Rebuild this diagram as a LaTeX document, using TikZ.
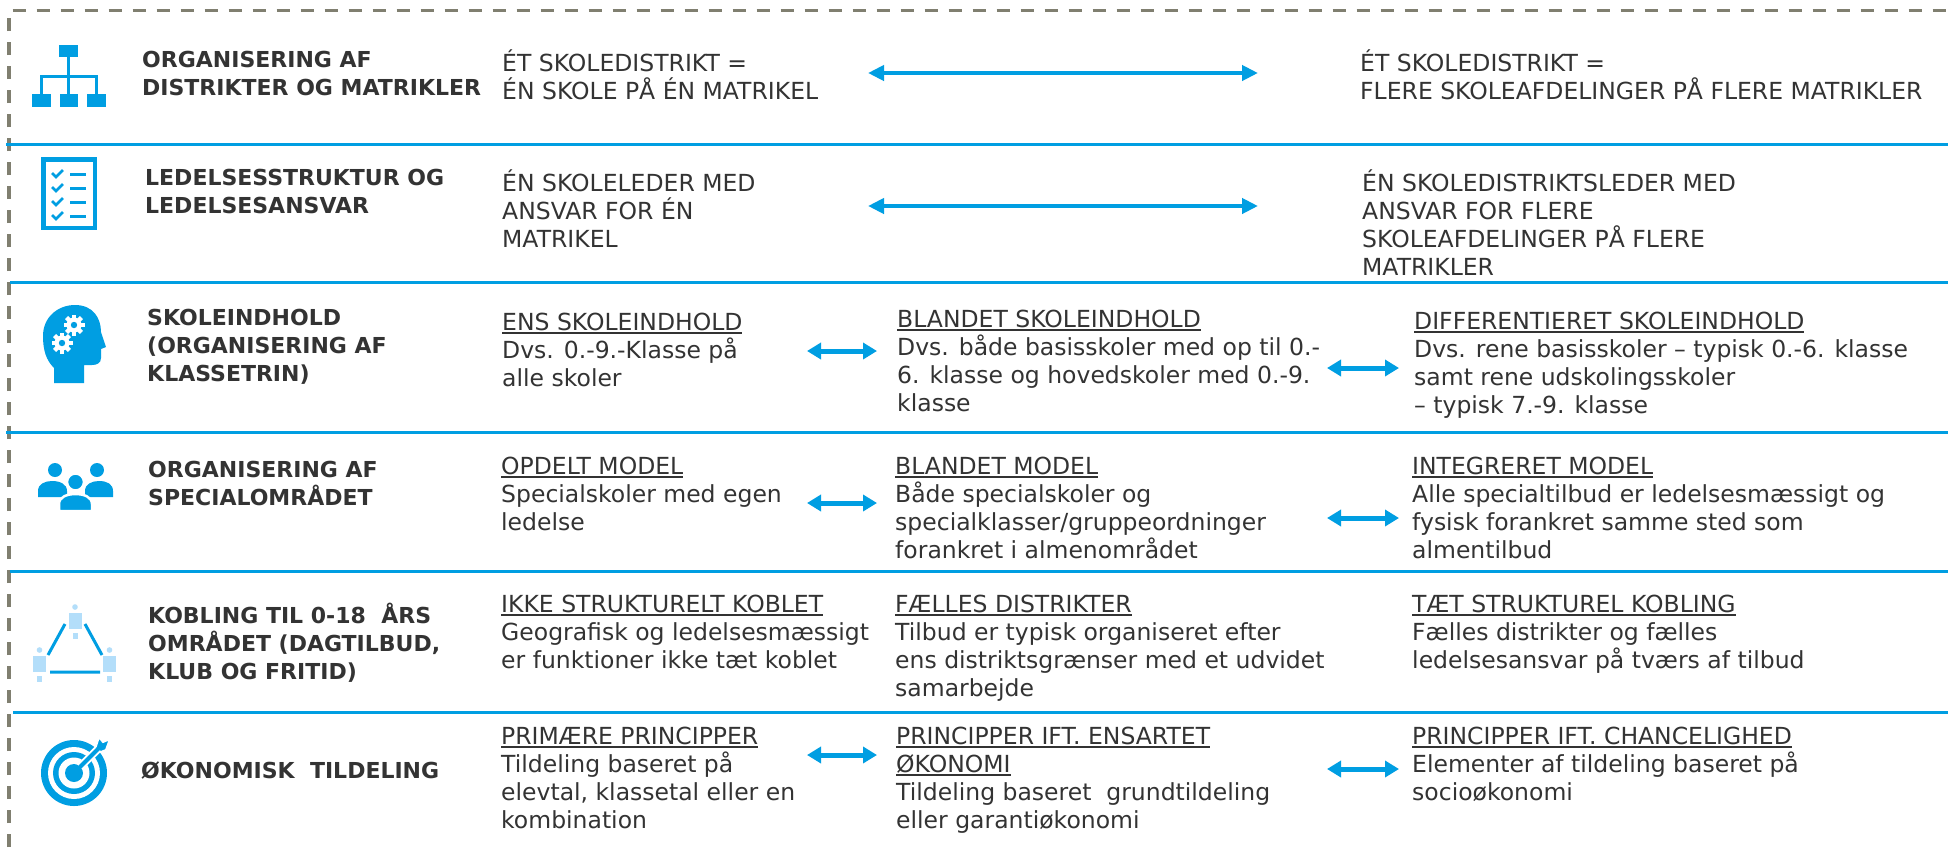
\documentclass[tikz,border=0pt]{standalone}
\usepackage{fontspec}
\setmainfont{DejaVu Sans}
\usetikzlibrary{arrows.meta}
\definecolor{blu}{RGB}{0,158,226}
\definecolor{lblu}{RGB}{179,222,250}
\definecolor{txt}{RGB}{51,51,51}
\definecolor{dsh}{RGB}{128,127,112}
\newlength\ulwd
\newcommand\ulin[1]{\settowidth\ulwd{#1}\rlap{\rule[-3.5pt]{\ulwd}{1.6pt}}#1}
\tikzset{
  rowtitle/.style={anchor=north west, inner sep=0pt, align=left, text=txt,
    font=\fontsize{22}{28}\selectfont\bfseries, execute at begin node=\rule{0pt}{22pt}},
  celltext/.style={anchor=north west, inner sep=0pt, align=left, text=txt,
    font=\fontsize{23.5}{28}\selectfont, execute at begin node=\rule{0pt}{22pt}},
  longarr/.style={<->, draw=blu, line width=4pt, >={Triangle[length=16pt,width=15pt]}},
  shortarr/.style={<->, draw=blu, line width=5pt, >={Triangle[length=14pt,width=16pt]}},
  sep/.style={draw=blu, line width=3pt}
}
\begin{document}
\begin{tikzpicture}[x=1pt,y=-1pt]
\useasboundingbox (0,0) rectangle (1948,847);
\fill[white] (0,0) rectangle (1948,847);
% frame
\draw[dsh, line width=3.5pt, dash pattern=on 13pt off 11pt] (9,847) -- (9,10.5) -- (1948,10.5);
\foreach \y/\x in {144/6,282/10,432/6,571/10,712/13} \draw[sep] (\x,\y) -- (1948,\y);

% icons
\fill[blu] (59,45) rectangle (78,57);
\draw[blu, line width=3pt] (68.5,57) -- (68.5,94) (41,94) -- (41,76) -- (96,76) -- (96,94);
\foreach \x in {32,59.5,87} \fill[blu] (\x,94) rectangle ++(18.5,13);

\draw[blu, line width=4.5pt] (43.25,159.25) rectangle (94.75,227.75);
\foreach \y in {174,188,202,216} {
  \draw[blu, line width=2.8pt] (52,\y-1) -- (56,\y+3) -- (63,\y-4);
  \draw[blu, line width=3pt] (70,\y) -- (86,\y);
}

\fill[blu] (54,383) -- (54,368) .. controls (46,360) and (43,350) .. (43,336)
  .. controls (43,317) and (58,305) .. (75,305) .. controls (93,305) and (101,318) .. (101,332)
  -- (106,347) -- (101,349) -- (101,358) .. controls (101,363) and (97,365) .. (92,365)
  -- (84,365) -- (84,383) -- cycle;
\foreach \gx/\gy in {74/325,62/343} {
  \fill[white] (\gx,\gy) circle (7.5);
  \foreach \a in {0,45,...,315}
    \fill[white, rotate around={\a:(\gx,\gy)}] (\gx-2.2,\gy-10.5) rectangle (\gx+2.2,\gy);
  \fill[blu] (\gx,\gy) circle (3.2);
}

\fill[blu] (55,470) circle (7) (97,470) circle (7);
\fill[blu] (38,497) -- (38,491) .. controls (38,484) and (45,481) .. (52,481)
  .. controls (60,481) and (67,484) .. (67,491) -- (67,497) -- cycle;
\fill[blu] (85,497) -- (85,491) .. controls (85,484) and (92,481) .. (99,481)
  .. controls (107,481) and (113,484) .. (113,491) -- (113,497) -- cycle;
\filldraw[fill=blu, draw=white, line width=2.5pt] (59,511) -- (59,504) .. controls (59,497) and (67,494) .. (75.5,494)
  .. controls (84,494) and (92,497) .. (92,504) -- (92,511) -- cycle;
\filldraw[fill=blu, draw=white, line width=2.5pt] (75.5,482) circle (8.5);

\foreach \px/\py in {75/607,39.5/650,109.5/650} {
  \fill[lblu] (\px,\py) circle (2.8);
  \fill[lblu] (\px-6.5,\py+6) rectangle (\px+6.5,\py+22);
  \fill[lblu] (\px-2.5,\py+26) rectangle (\px+2.5,\py+32);
}
\draw[blu, line width=3pt] (65,624) -- (48,655) (85,624) -- (102,655) (50,672) -- (100,672);

\fill[blu] (74,773) circle (33);
\fill[white] (74,773) circle (26);
\fill[blu] (74,773) circle (21);
\fill[white] (74,773) circle (15.5);
\fill[blu] (74,773) circle (9);
\draw[white, line width=8pt] (80,767) -- (100,747);
\filldraw[fill=blu, draw=white, line width=2pt] (95,749) -- (99,737) -- (103,742) -- (110,739) -- (106,750) -- (101,752) -- cycle;
\draw[blu, line width=4pt] (74,773) -- (101,746);

% row titles
\node[rowtitle] (t1) at (142,51) {ORGANISERING AF\\DISTRIKTER OG MATRIKLER};
\node[rowtitle] (t2) at (145,169) {LEDELSESSTRUKTUR OG\\LEDELSESANSVAR};
\node[rowtitle] (t3) at (147,309) {SKOLEINDHOLD\\(ORGANISERING AF\\KLASSETRIN)};
\node[rowtitle] (t4) at (148,461) {ORGANISERING AF\\SPECIALOMRÅDET};
\node[rowtitle] (t5) at (148,603) {KOBLING TIL 0-18\ \ ÅRS\\OMRÅDET (DAGTILBUD,\\KLUB OG FRITID)};
\node[rowtitle] (t6) at (141,756) {ØKONOMISK\ \ TILDELING};

% rows 1-2
\node[celltext] (a1) at (502,49.6) {ÉT SKOLEDISTRIKT =\\ÉN SKOLE PÅ ÉN MATRIKEL};
\node[celltext] (c1) at (1360,49.6) {ÉT SKOLEDISTRIKT =\\FLERE SKOLEAFDELINGER PÅ FLERE MATRIKLER};
\node[celltext] (a2) at (502,169.6) {ÉN SKOLELEDER MED\\ANSVAR FOR ÉN\\MATRIKEL};
\node[celltext] (c2) at (1362,169.6) {ÉN SKOLEDISTRIKTSLEDER MED\\ANSVAR FOR FLERE\\SKOLEAFDELINGER PÅ FLERE\\MATRIKLER};

% rows 3-6
\node[celltext] (a3) at (502,312.6) {\ulin{ENS SKOLEINDHOLD}\\Dvs. 0.-9.-Klasse på\\alle skoler};
\node[celltext] (b3) at (897,309.6) {\ulin{BLANDET SKOLEINDHOLD}\\Dvs. både basisskoler med op til 0.-\\6. klasse og hovedskoler med 0.-9.\\klasse};
\node[celltext] (c3) at (1414,311.6) {\ulin{DIFFERENTIERET SKOLEINDHOLD}\\Dvs. rene basisskoler – typisk 0.-6. klasse\\samt rene udskolingsskoler\\– typisk 7.-9. klasse};
\node[celltext] (a4) at (501,456.6) {\ulin{OPDELT MODEL}\\Specialskoler med egen\\ledelse};
\node[celltext] (b4) at (895,456.6) {\ulin{BLANDET MODEL}\\Både specialskoler og\\specialklasser/gruppeordninger\\forankret i almenområdet};
\node[celltext] (c4) at (1412,456.6) {\ulin{INTEGRERET MODEL}\\Alle specialtilbud er ledelsesmæssigt og\\fysisk forankret samme sted som\\almentilbud};
\node[celltext] (a5) at (501,594.6) {\ulin{IKKE STRUKTURELT KOBLET}\\Geografisk og ledelsesmæssigt\\er funktioner ikke tæt koblet};
\node[celltext] (b5) at (895,594.6) {\ulin{FÆLLES DISTRIKTER}\\Tilbud er typisk organiseret efter\\ens distriktsgrænser med et udvidet\\samarbejde};
\node[celltext] (c5) at (1412,594.6) {\ulin{TÆT STRUKTUREL KOBLING}\\Fælles distrikter og fælles\\ledelsesansvar på tværs af tilbud};
\node[celltext] (a6) at (501,726.6) {\ulin{PRIMÆRE PRINCIPPER}\\Tildeling baseret på\\elevtal, klassetal eller en\\kombination};
\node[celltext] (b6) at (896,726.6) {\ulin{PRINCIPPER IFT. ENSARTET}\\\ulin{ØKONOMI}\\Tildeling baseret\ \ grundtildeling\\eller garantiøkonomi};
\node[celltext] (c6) at (1412,726.6) {\ulin{PRINCIPPER IFT. CHANCELIGHED}\\Elementer af tildeling baseret på\\socioøkonomi};

% arrows
\foreach \y/\n in {73/1,206/2} {
  \coordinate (l\n) at (868,\y);
  \coordinate (r\n) at (1258,\y);
  \draw[longarr] (l\n) -- (r\n);
}
\foreach \xa/\xb/\y/\n in {807/877/351/3a,1327/1399/368/3b,807/877/503/4a,1327/1399/518/4b,807/877/755/6a,1327/1399/769/6b} {
  \coordinate (l\n) at (\xa,\y);
  \coordinate (r\n) at (\xb,\y);
  \draw[shortarr] (l\n) -- (r\n);
}
\end{tikzpicture}
\end{document}
